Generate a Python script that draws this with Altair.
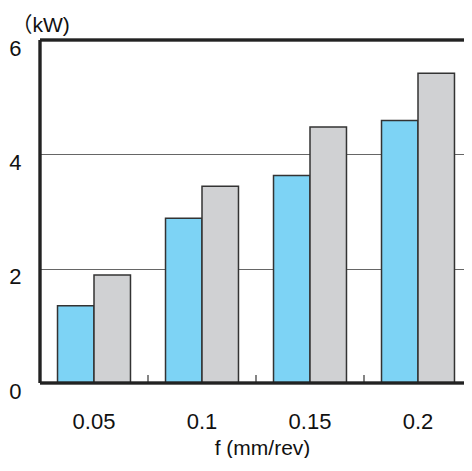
import altair as alt
import pandas as pd

categories = ["0.05", "0.1", "0.15", "0.2"]
series_a = [1.35, 2.88, 3.63, 4.59]
series_b = [1.89, 3.44, 4.48, 5.42]
series_names = ["A", "B"]
y_ticks = [0, 2, 4, 6]

rows = []
for c, a, b in zip(categories, series_a, series_b):
    rows.append({"f": c, "s": series_names[0], "v": a})
    rows.append({"f": c, "s": series_names[1], "v": b})
df = pd.DataFrame(rows)
cat_df = pd.DataFrame({"f": categories})

FONT = "Liberation Sans"
W, H = 424, 343
XR = 432  # full band range (extends past the visible edge like the reference)

xscale = alt.Scale(domain=categories, paddingInner=0, paddingOuter=0, range=[0, XR])
yscale = alt.Scale(domain=[0, 6])

xaxis = alt.Axis(title="f (mm/rev)", labelAngle=0, labelFont=FONT,
                 labelFontSize=22, labelColor="#111", labelBaseline="alphabetic",
                 labelPadding=45, ticks=False, tickSize=0, domain=False,
                 titleFont=FONT, titleFontSize=21, titleFontWeight="normal",
                 titleColor="#111", titleX=222, titleY=71,
                 titleBaseline="alphabetic", titleAnchor="middle")

bars = alt.Chart(df).mark_bar(stroke="#333333", strokeWidth=1.5).encode(
    x=alt.X("f:N", scale=xscale, sort=categories, axis=xaxis),
    xOffset=alt.XOffset("s:N", scale=alt.Scale(paddingOuter=0.48, paddingInner=0)),
    y=alt.Y("v:Q", scale=yscale,
            axis=alt.Axis(values=y_ticks, title="（kW)", titleAngle=0,
                          titleFont="Liberation Sans, Noto Sans CJK JP", titleFontSize=21,
                          titleFontWeight="normal",
                          titleColor="#111", titleX=-29, titleY=-9,
                          titleAlign="left", titleBaseline="alphabetic",
                          labelFont=FONT, labelFontSize=22, labelColor="#111",
                          labelBaseline="alphabetic", labelOffset=15, labelAlign="right",
                          labelPadding=19, ticks=False, tickSize=0,
                          domain=False, grid=True, gridColor="#666666", gridWidth=1)),
    color=alt.Color("s:N", scale=alt.Scale(domain=series_names, range=["#7DD3F5", "#D0D1D3"]),
                    legend=None),
)

xticks = alt.Chart(cat_df).mark_rule(color="#333333", strokeWidth=1.2).encode(
    x=alt.X("f:N", scale=xscale, sort=categories, bandPosition=0, axis=xaxis),
    y=alt.value(H - 8), y2=alt.value(H),
)

top_line = alt.Chart(cat_df).mark_rule(color="#222222", strokeWidth=2.5).encode(
    y=alt.value(0), x=alt.value(0), x2=alt.value(XR)
)
left_line = alt.Chart(cat_df).mark_rule(color="#222222", strokeWidth=2.5).encode(
    x=alt.value(0), y=alt.value(0), y2=alt.value(H)
)
bottom_line = alt.Chart(cat_df).mark_rule(color="#222222", strokeWidth=2.5).encode(
    y=alt.value(H), x=alt.value(0), x2=alt.value(XR)
)

chart = alt.layer(bars, xticks, top_line, left_line, bottom_line).properties(
    width=W, height=H,
    autosize=alt.AutoSizeParams(type="none"),
    padding={"left": 32, "top": 32, "right": 0, "bottom": 75},
    background="white",
).configure_view(stroke=None)

chart.save("out.html", embed_options={"renderer": "svg", "actions": False})
